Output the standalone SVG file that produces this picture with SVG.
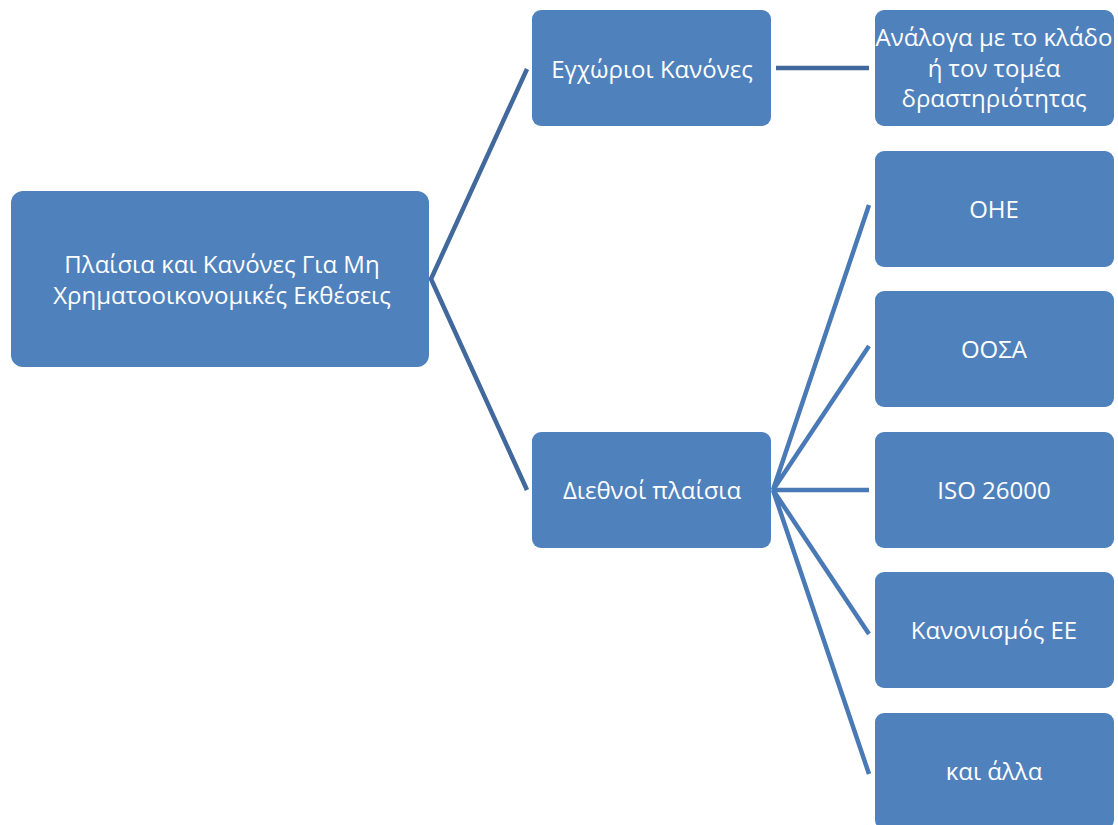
<svg xmlns="http://www.w3.org/2000/svg" width="1118" height="825" viewBox="0 0 1118 825">
<style>
.box{fill:#4f81bd;}
.t{font-family:"Open Sans","Noto Sans","Liberation Sans",sans-serif;font-size:24px;fill:#ffffff;text-anchor:middle;}
.c1{stroke:#41699c;stroke-width:4.5;fill:none;}
.c2{stroke:#4a7ab5;stroke-width:4.5;fill:none;}
</style>
<rect width="1118" height="825" fill="#ffffff"/>
<g id="connectors">
<path class="c1" d="M527,69 L431,279 L527,490"/>
<path class="c1" d="M776,68 L869,68"/>
<path class="c2" d="M869,205 L773,490 L869,346"/>
<path class="c2" d="M773,490 L869,490"/>
<path class="c2" d="M869,634 L773,490 L869,774"/>
</g>
<g id="root">
<rect class="box" x="11" y="191" width="418" height="176" rx="12"/>
<text class="t" x="222" y="273">Πλαίσια και Κανόνες Για Μη</text>
<text class="t" x="222" y="304">Χρηματοοικονομικές Εκθέσεις</text>
</g>
<g id="domestic">
<rect class="box" x="532" y="10" width="239" height="116" rx="9"/>
<text class="t" x="652" y="78">Εγχώριοι Κανόνες</text>
</g>
<g id="international">
<rect class="box" x="532" y="432" width="239" height="116" rx="9"/>
<text class="t" x="652" y="499">Διεθνοί πλαίσια</text>
</g>
<g id="sector">
<rect class="box" x="875" y="10" width="239" height="116" rx="9"/>
<text class="t" x="994" y="46">Ανάλογα με το κλάδο</text>
<text class="t" x="994" y="77">ή τον τομέα</text>
<text class="t" x="994" y="107">δραστηριότητας</text>
</g>
<g id="ohe">
<rect class="box" x="875" y="151" width="239" height="116" rx="9"/>
<text class="t" x="994" y="218">ΟΗΕ</text>
</g>
<g id="oosa">
<rect class="box" x="875" y="291" width="239" height="116" rx="9"/>
<text class="t" x="994" y="358">ΟΟΣΑ</text>
</g>
<g id="iso">
<rect class="box" x="875" y="432" width="239" height="116" rx="9"/>
<text class="t" x="994" y="499">ISO 26000</text>
</g>
<g id="eu">
<rect class="box" x="875" y="572" width="239" height="116" rx="9"/>
<text class="t" x="994" y="639">Κανονισμός ΕΕ</text>
</g>
<g id="other">
<rect class="box" x="875" y="713" width="239" height="116" rx="9"/>
<text class="t" x="994" y="780">και άλλα</text>
</g>
</svg>
